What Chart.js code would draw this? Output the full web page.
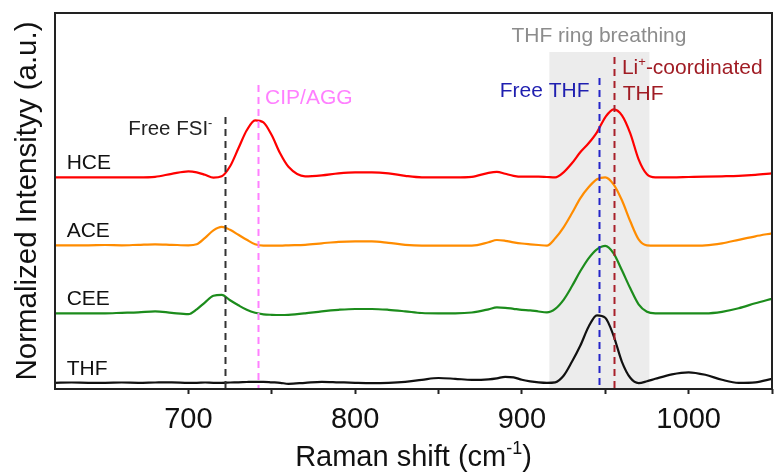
<!DOCTYPE html>
<html>
<head>
<meta charset="utf-8">
<script src="https://cdn.jsdelivr.net/npm/chart.js@4/dist/chart.umd.min.js"></script>
<style>
  html, body { margin: 0; padding: 0; background: #fff; }
  #wrap { width: 776px; height: 472px; }
</style>
</head>
<body>
<div id="wrap"><canvas id="raman" width="776" height="472"></canvas></div>
<script>
 // Raman shift grid (cm-1), shared by all spectra
 const shift = [620, 630, 640, 650, 660, 670, 680, 690, 700,
     705, 710, 715, 720, 725, 730, 735, 740, 745, 750, 755, 760,
     770, 780, 790, 800, 810, 820, 830, 840, 850, 860, 870, 880,
     885, 890, 895, 900, 905, 910, 915, 920, 925, 930, 935, 940, 945, 950,
     955, 960, 965, 970, 975, 980,
     990, 1000, 1010, 1020, 1030, 1040, 1050];

 // Intensities (a.u.) above each trace's own baseline
 const hce = [0, 0, 0, 0, 0, 0, 0.5, 3.5, 6,
     5, 2.5, -0.3, 1, 11, 29, 47, 57, 55, 42, 24, 10.5,
     1, 2, 4, 5, 5, 4, 1.5, 0, 0, 0, 0.5, 4.5,
     5.5, 3.5, 1.5, 0.6, 0.6, 0.6, 0.3, 0, 5, 14, 25, 34, 45, 60,
     68, 62, 44, 18, 3, 0,
     0, 0.3, 0.6, 1, 1.5, 2.5, 4];
 const ace = [0, 0, 0, 0.3, 0, 0.5, 1, 0.5, 0,
     1, 7.5, 15, 18.5, 15.5, 10.5, 5.5, 1, -0.3, -0.3, -0.3, 0,
     0.5, 2, 3.5, 4, 4, 2.5, 0.5, -0.3, -0.3, -0.3, -0.3, 3,
     5.3, 4.5, 3, 1.8, 1, 0.3, -0.3, 7, 18, 32, 47, 58, 66, 68,
     61, 45, 24, 6, 0, -0.3,
     -0.3, -0.3, 0, 2, 5.5, 9, 12];
 const cee = [0, 0, 0, 0, 0.5, 1, 2, 0.5, -0.8,
     4, 11, 17.5, 18.5, 13, 8, 3.5, 0.5, -1, -1.5, -1.7, -1.5,
     0, 2, 3.5, 4.3, 4.3, 3.5, 2, 0.3, 0, 0, 0.8, 4,
     6, 5.5, 4.5, 3.5, 3, 1.8, 1, 4.5, 13.5, 27, 42, 55, 64, 67.5,
     60, 43, 25, 9, 1.5, 0,
     0, 0, 0, 1.5, 5, 10, 14.5];
 const thf = [0, 0.3, 0, 0, 0.3, 0, 0.3, 0.5, 0,
     0, 0.3, 0, 0, 0.3, 0.5, 0.8, 1, 1, 0.5, 0, -1,
     0, 1, 0.5, 0, -0.3, 0, 1, 3, 4.8, 4, 3, 3.5,
     4.5, 6, 5.5, 3, 1.5, 0.5, 0, 0.5, 7, 21, 37, 56, 67.5, 65,
     47, 21, 5, -0.3, 1.5, 4,
     8.5, 10.5, 8, 3, 0, 0.5, 4];

 const names = ['HCE', 'ACE', 'CEE', 'THF'];
 const offsets = [211.7, 143.7, 75.7, 6.2];   // vertical stacking of the traces
 const colors = ['#ff0000', '#ff8c00', '#1c8c1c', '#111111'];
 const spectra = [hce, ace, cee, thf];

 // Band markers: position (cm-1) and how high the dashed line reaches
 const markerShift = [722, 742, 946, 955.5];
 const markerTop = [272, 304, 311, 332];
 const markerColors = ['#333333', '#ff80ff', '#2424c8', '#a8202a'];

 // THF ring-breathing window
 const ringBand = [916.5, 976.5];
 const ringTop = 337;

 const FONT = '"Liberation Sans", Arial, sans-serif';

 // text with optional superscript pieces, e.g. [['Li'], ['+', true], ['-coordinated']]
 function drawRich(ctx, parts, x, y, size, color, align) {
     ctx.save();
     ctx.fillStyle = color;
     ctx.textBaseline = 'alphabetic';
     ctx.textAlign = 'left';
     const widths = parts.map(p => {
         ctx.font = (p[1] ? size * 0.62 : size) + 'px ' + FONT;
         return ctx.measureText(p[0]).width;
     });
     const total = widths.reduce((a, b) => a + b, 0);
     let cx = align === 'center' ? x - total / 2 : x;
     parts.forEach((p, i) => {
         ctx.font = (p[1] ? size * 0.62 : size) + 'px ' + FONT;
         ctx.fillText(p[0], cx, p[1] ? y - size * 0.4 : y);
         cx += widths[i];
     });
     ctx.restore();
 }

 const notes = [
     { parts: [['Free FSI'], ['-', true]], x: 664, y: 254, size: 20.5, color: '#222222' },
     { parts: [['CIP/AGG']], x: 746, y: 285, size: 21, color: '#ff80ff' },
     { parts: [['THF ring breathing']], x: 946.2, y: 347, size: 21, color: '#8c8c8c', align: 'center' },
     { parts: [['Free THF']], x: 886.7, y: 292, size: 21, color: '#1f1fb0' },
     { parts: [['Li'], ['+', true], ['-coordinated']], x: 960, y: 315, size: 21, color: '#a01c24' },
     { parts: [['THF']], x: 960.5, y: 289, size: 21, color: '#a01c24' }
 ];

 const decorations = {
     id: 'decorations',
     beforeDatasetsDraw(chart) {
         const { ctx, scales: { x, y } } = chart;
         ctx.save();
         ctx.fillStyle = '#ececec';
         const x0 = x.getPixelForValue(ringBand[0]);
         const x1 = x.getPixelForValue(ringBand[1]);
         const yt = y.getPixelForValue(ringTop);
         ctx.fillRect(x0, yt, x1 - x0, y.getPixelForValue(0) - yt);
         ctx.restore();
     },
     afterDatasetsDraw(chart) {
         const { ctx, scales: { x, y } } = chart;
         ctx.save();
         ctx.lineWidth = 2;
         ctx.setLineDash([7, 5]);
         markerShift.forEach((s, i) => {
             const px = Math.round(x.getPixelForValue(s)) + 0.5;
             ctx.strokeStyle = markerColors[i];
             ctx.beginPath();
             ctx.moveTo(px, y.getPixelForValue(markerTop[i]));
             ctx.lineTo(px, y.getPixelForValue(0));
             ctx.stroke();
         });
         ctx.restore();
     },
     afterDraw(chart) {
         const { ctx, chartArea: a, scales: { x, y } } = chart;
         // frame
         ctx.save();
         ctx.strokeStyle = '#222222';
         ctx.lineWidth = 2;
         ctx.strokeRect(a.left, a.top, a.right - a.left, a.bottom - a.top);
         ctx.restore();

         names.forEach((n, i) => {
             drawRich(ctx, [[n]], x.getPixelForValue(627), y.getPixelForValue(offsets[i] + 8), 21, '#111111');
         });
         notes.forEach(n => {
             drawRich(ctx, n.parts, x.getPixelForValue(n.x), y.getPixelForValue(n.y), n.size, n.color, n.align);
         });

         // x axis title with superscript
         drawRich(ctx, [['Raman shift (cm'], ['-1', true], [')']],
             (a.left + a.right) / 2, chart.height - 6, 29, '#111111', 'center');
     }
 };

 const ctx = document.getElementById('raman').getContext('2d');
 const ramanChart = new Chart(ctx, {
     type: 'line',
     data: {
         datasets: spectra.map((vals, i) => ({
             label: names[i],
             data: shift.map((s, k) => ({ x: s, y: offsets[i] + vals[k] })),
             borderColor: colors[i],
             borderWidth: 2.2,
             pointRadius: 0,
             cubicInterpolationMode: 'monotone',
             fill: false
         }))
     },
     options: {
         responsive: false,
         animation: false,
         devicePixelRatio: 1,
         layout: { padding: { top: 13, right: 4, left: 0, bottom: 0 } },
         plugins: {
             legend: { display: false },
             tooltip: { enabled: false }
         },
         scales: {
             x: {
                 type: 'linear',
                 min: 620,
                 max: 1050,
                 afterFit(scale) {
                     scale.height = 83;
                     scale.paddingLeft = 0;
                     scale.paddingRight = 0;
                 },
                 afterBuildTicks(scale) {
                     scale.ticks = scale.ticks.filter(t => t.value % 50 === 0);
                 },
                 ticks: {
                     stepSize: 50,
                     autoSkip: false,
                     maxRotation: 0,
                     padding: 9,
                     color: '#111111',
                     font: { size: 29, family: FONT },
                     callback: v => (v % 100 === 0 ? String(v) : '')
                 },
                 grid: {
                     drawOnChartArea: false,
                     drawTicks: true,
                     tickLength: 5,
                     tickWidth: 2,
                     tickColor: '#222222'
                 },
                 border: { display: false }
             },
             y: {
                 min: 0,
                 max: 376,
                 afterFit(scale) { scale.width = 55; },
                 ticks: { display: false },
                 grid: { display: false },
                 border: { display: false },
                 title: {
                     display: true,
                     text: 'Normalized Intensityy (a.u.)',
                     color: '#111111',
                     font: { size: 29.5, family: FONT },
                     padding: { top: 10, bottom: 0 }
                 }
             }
         }
     },
     plugins: [decorations]
 });
</script>
</body>
</html>
